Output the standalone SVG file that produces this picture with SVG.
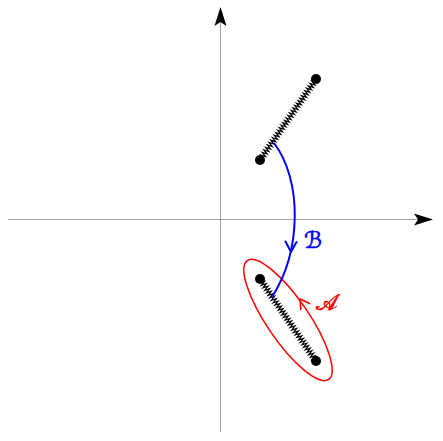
<svg xmlns="http://www.w3.org/2000/svg" width="443" height="441" viewBox="0 0 443 441">
<style>
.axis{stroke:#a0a0a0;stroke-width:1;fill:none}
.ahead{fill:#000;stroke:none}
.spring{stroke:#000;stroke-width:1.2;fill:none;stroke-linejoin:miter}
.dot{fill:#000}
.lbl{font-family:"DejaVu Sans","Noto Sans",sans-serif;font-size:23px;stroke-width:0.6}
</style>
<defs>
<path id="spr" d="M0,0 h3.75 l0.75,-2.5 l1.5,5 l1.5,-5 l1.5,5 l1.5,-5 l1.5,5 l1.5,-5 l1.5,5 l1.5,-5 l1.5,5 l1.5,-5 l1.5,5 l1.5,-5 l1.5,5 l1.5,-5 l1.5,5 l1.5,-5 l1.5,5 l1.5,-5 l1.5,5 l1.5,-5 l1.5,5 l1.5,-5 l1.5,5 l1.5,-5 l1.5,5 l1.5,-5 l1.5,5 l1.5,-5 l1.5,5 l1.5,-5 l1.5,5 l1.5,-5 l1.5,5 l1.5,-5 l1.5,5 l1.5,-5 l1.5,5 l1.5,-5 l1.5,5 l1.5,-5 l1.5,5 l1.5,-5 l1.5,5 l1.5,-5 l1.5,5 l1.5,-5 l1.5,5 l1.5,-5 l1.5,5 l1.5,-5 l1.5,5 l1.5,-5 l1.5,5 l1.5,-5 l1.5,5 l1.5,-5 l1.5,5 l1.5,-5 l1.5,5 l1.5,-5 l1.5,5 l1.5,-5 l0.75,2.5 h3.75"/>
</defs>
<g id="axes">
<line class="axis" x1="8" y1="219.5" x2="420" y2="219.5"/>
<path class="ahead" d="M433,219.5 L414,213.5 L418,219.5 L414,225.5 Z"/>
<line class="axis" x1="220.5" y1="432" x2="220.5" y2="22"/>
<path class="ahead" d="M220.5,7 L214.5,26 L220.5,22 L226.5,26 Z"/>
</g>
<g id="spring-top">
<use href="#spr" class="spring" transform="translate(260,160) rotate(-55.3)"/>
<circle class="dot" cx="260" cy="160" r="5"/>
<circle class="dot" cx="316" cy="79" r="5"/>
</g>
<g id="spring-bottom">
<use href="#spr" class="spring" transform="translate(260,279) rotate(55.7)"/>
<circle class="dot" cx="260" cy="279" r="5"/>
<circle class="dot" cx="316" cy="361" r="5"/>
</g>
<g id="loop-A">
<ellipse cx="288" cy="320" rx="72" ry="21" transform="rotate(55.7 288 320)" fill="none" stroke="#ff0000" stroke-width="1.5"/>
<path d="M300.8,309.5 L300,299 L309.5,303.5" fill="none" stroke="#ff0000" stroke-width="1.6" stroke-linecap="round" stroke-linejoin="round"/>
<text class="lbl" x="327" y="310" fill="#ff0000" stroke="#ff0000" text-anchor="middle">𝒜</text>
</g>
<g id="connectors">
<path d="M274,143 C302,180 302,250 272,297" fill="none" stroke="#0000ff" stroke-width="2"/>
<path d="M285.5,241.5 L291,252 L296.5,242" fill="none" stroke="#0000ff" stroke-width="2" stroke-linecap="round" stroke-linejoin="round"/>
<text class="lbl" x="313" y="248" fill="#0000ff" stroke="#0000ff" text-anchor="middle">ℬ</text>
</g>
</svg>
